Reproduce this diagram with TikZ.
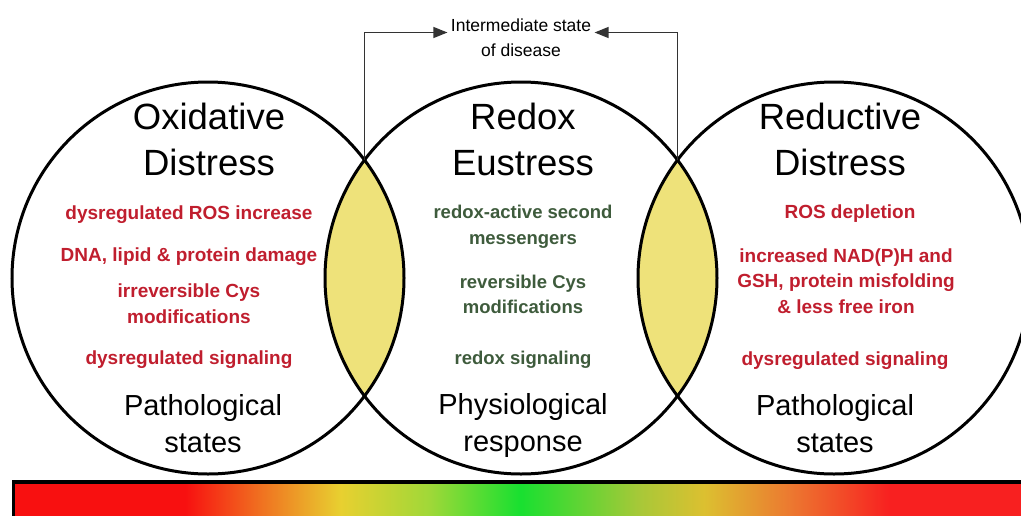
\documentclass[tikz,border=0pt]{standalone}
\usepackage{fontspec}
\setmainfont{Liberation Sans}
\usetikzlibrary{arrows.meta}

\definecolor{harmred}{HTML}{C01E2E}
\definecolor{eugreen}{HTML}{3E5B3C}
\definecolor{lensfill}{HTML}{EEE27A}
\definecolor{barred}{HTML}{F81010}
\definecolor{barorange}{HTML}{F07020}
\definecolor{baryellow}{HTML}{E8D030}
\definecolor{barlime}{HTML}{A0D838}
\definecolor{bargreen}{HTML}{18E030}
\definecolor{barolive}{HTML}{A8C838}
\definecolor{barochre}{HTML}{DCC030}
\definecolor{barorange2}{HTML}{EC7830}
\definecolor{barred2}{HTML}{F82020}

% red -> green -> red scale, path is mapped onto 25bp..75bp
\pgfdeclarehorizontalshading{redoxbar}{100bp}{%
  color(0bp)=(barred); color(25bp)=(barred); color(33.5bp)=(barred);
  color(37.2bp)=(barorange); color(41.2bp)=(baryellow);
  color(45.6bp)=(barlime); color(50.1bp)=(bargreen);
  color(56bp)=(barolive); color(59.2bp)=(barochre);
  color(63.5bp)=(barorange2); color(68.4bp)=(barred2);
  color(75bp)=(barred2); color(100bp)=(barred2)}

\newcommand{\rad}{196pt}

\tikzset{
  ring/.style     = {line width=3pt,black},
  title/.style    = {font=\fontsize{36.5}{46}\selectfont,align=center},
  badtxt/.style   = {font=\bfseries\fontsize{19}{25.5}\selectfont,text=harmred,align=center},
  goodtxt/.style  = {font=\bfseries\fontsize{18.5}{25.5}\selectfont,text=eugreen,align=center},
  statetxt/.style = {font=\fontsize{29}{37}\selectfont,align=center},
  bracket/.style  = {-{Triangle[length=14pt,width=11pt]},line width=1.3pt,black!80}
}

\begin{document}
\begin{tikzpicture}[x=1pt,y=-1pt]
  \useasboundingbox (0,0) rectangle (1021,515);
  \clip (0,0) rectangle (1021,515);

  \coordinate (oxi)  at (208,278);
  \coordinate (eu)   at (521,278);
  \coordinate (redu) at (834,278);

  % overlaps
  \begin{scope}
    \clip (oxi) circle (\rad);
    \fill[lensfill] (eu) circle (\rad);
  \end{scope}
  \begin{scope}
    \clip (redu) circle (\rad);
    \fill[lensfill] (eu) circle (\rad);
  \end{scope}

  \draw[ring] (oxi) circle (\rad);
  \draw[ring] (eu) circle (\rad);
  \draw[ring] (redu) circle (\rad);

  % scale bar
  \shade[shading=redoxbar,draw=black,line width=3.5pt] (13.5,482) rectangle (1023,530);

  % intermediate state
  \node[font=\fontsize{17.5}{25}\selectfont,align=center] (inter) at (521,37.5)
    {Intermediate state\\of disease};
  \coordinate (apexL) at (364.5,160);
  \coordinate (apexR) at (677.5,160);
  \draw[bracket] (apexL) |- ([yshift=5pt]inter.west);
  \draw[bracket] (apexR) |- ([yshift=5pt]inter.east);

  % oxidative side
  \node[title] (oxiT) at (209,139.5) {Oxidative\\Distress};
  \node[badtxt] (oxi1) at (189,214.5) {dysregulated ROS increase};
  \node[badtxt] (oxi2) at (189,256.5) {DNA, lipid \& protein damage};
  \node[badtxt] (oxi3) at (189,303.5) {irreversible Cys\\modifications};
  \node[badtxt] (oxi4) at (189,359.5) {dysregulated signaling};
  \node[statetxt] (oxiS) at (203,424) {Pathological\\states};

  % eustress
  \node[title] (euT) at (523,139.5) {Redox\\Eustress};
  \node[goodtxt] (eu1) at (523,227) {redox-active second\\messengers};
  \node[goodtxt] (eu2) at (523,294.5) {reversible Cys\\modifications};
  \node[goodtxt] (eu3) at (523,359.5) {redox signaling};
  \node[statetxt] (euS) at (523,425.5) {Physiological\\response};

  % reductive side
  \node[title] (reduT) at (840,139.5) {Reductive\\Distress};
  \node[badtxt] (redu1) at (850,213.5) {ROS depletion};
  \node[badtxt] (redu2) at (846,281) {increased NAD(P)H and\\GSH, protein misfolding\\\& less free iron};
  \node[badtxt] (redu3) at (845,360.5) {dysregulated signaling};
  \node[statetxt] (reduS) at (835,424) {Pathological\\states};
\end{tikzpicture}
\end{document}
